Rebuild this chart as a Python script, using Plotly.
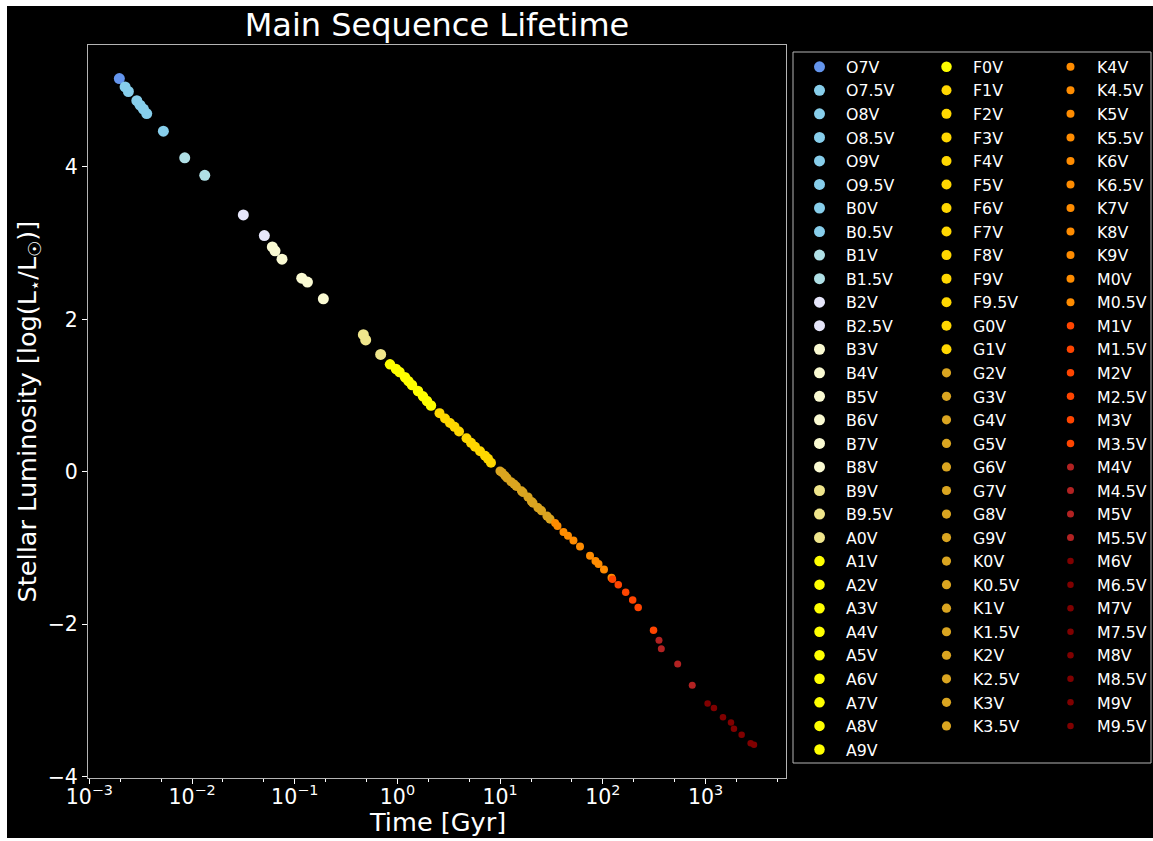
import plotly.graph_objects as go

# Main-sequence dwarf spectral types
spectral_types = [
    "O7V", "O7.5V", "O8V", "O8.5V", "O9V", "O9.5V", "B0V", "B0.5V", "B1V", "B1.5V",
    "B2V", "B2.5V", "B3V", "B4V", "B5V", "B6V", "B7V", "B8V", "B9V", "B9.5V",
    "A0V", "A1V", "A2V", "A3V", "A4V", "A5V", "A6V", "A7V", "A8V", "A9V",
    "F0V", "F1V", "F2V", "F3V", "F4V", "F5V", "F6V", "F7V", "F8V", "F9V",
    "F9.5V", "G0V", "G1V", "G2V", "G3V", "G4V", "G5V", "G6V", "G7V", "G8V",
    "G9V", "K0V", "K0.5V", "K1V", "K1.5V", "K2V", "K2.5V", "K3V", "K3.5V",
    "K4V", "K4.5V", "K5V", "K5.5V", "K6V", "K6.5V", "K7V", "K8V", "K9V", "M0V",
    "M0.5V", "M1V", "M1.5V", "M2V", "M2.5V", "M3V", "M3.5V", "M4V", "M4.5V", "M5V",
    "M5.5V", "M6V", "M6.5V", "M7V", "M7.5V", "M8V", "M8.5V", "M9V", "M9.5V",
]

# Main-sequence lifetime [Gyr]
lifetime_gyr = [
    0.00196, 0.00223, 0.00240, 0.00290, 0.00312, 0.00336, 0.00362, 0.00526, 0.00849, 0.0133,
    0.0316, 0.0506, 0.0605, 0.0643, 0.0752, 0.117, 0.133, 0.190, 0.466, 0.491,
    0.687, 0.847, 0.969, 1.048, 1.186, 1.282, 1.387, 1.587, 1.775, 1.941,
    2.123, 2.57, 2.91, 3.25, 3.60, 3.98, 4.71, 5.21, 5.70, 6.38,
    7.13, 7.63, 8.15, 9.98, 10.43, 11.16, 11.67, 12.77, 13.66, 14.37,
    16.16, 16.71, 18.70, 20.23, 20.91, 23.38, 25.29, 28.62, 30.61,
    34.3, 36.2, 41.4, 45.8, 51.8, 60.0, 75.1, 84.9, 90.8, 102.7,
    121.6, 124.2, 141.5, 167.1, 195.4, 221.2, 311.9, 352.5, 371.5, 536.0,
    743.0, 1049.0, 1209.0, 1480.0, 1771.0, 1893.0, 2249.0, 2754.0, 2966.0,
]

# log10(L / Lsun)
log_luminosity = [
    5.16, 5.05, 4.99, 4.87, 4.81, 4.76, 4.70, 4.47, 4.12, 3.89,
    3.37, 3.10, 2.95, 2.90, 2.79, 2.54, 2.49, 2.27, 1.80, 1.73,
    1.54, 1.41, 1.35, 1.31, 1.24, 1.19, 1.14, 1.06, 0.99, 0.93,
    0.87, 0.77, 0.70, 0.64, 0.59, 0.53, 0.44, 0.38, 0.33, 0.27,
    0.21, 0.17, 0.12, 0.01, -0.01, -0.05, -0.08, -0.13, -0.16, -0.19,
    -0.25, -0.27, -0.33, -0.39, -0.41, -0.47, -0.51, -0.58, -0.62,
    -0.67, -0.71, -0.79, -0.84, -0.90, -0.98, -1.10, -1.17, -1.21, -1.28,
    -1.39, -1.41, -1.48, -1.58, -1.68, -1.78, -2.08, -2.21, -2.32, -2.52,
    -2.80, -3.04, -3.10, -3.22, -3.29, -3.37, -3.45, -3.56, -3.58,
]

# Axis ticks
time_ticks = [1e-3, 1e-2, 1e-1, 1e0, 1e1, 1e2, 1e3]
time_tick_labels = ["10<sup>−3</sup>", "10<sup>−2</sup>", "10<sup>−1</sup>", "10<sup>0</sup>",
                    "10<sup>1</sup>", "10<sup>2</sup>", "10<sup>3</sup>"]
lum_ticks = [-4, -2, 0, 2, 4]

# Marker colour / size per group of spectral types
style_groups = [
    (["O7V"], "#6495ED", 11),
    (["O7.5V", "O8V", "O8.5V", "O9V", "O9.5V", "B0V", "B0.5V"], "#87CEEB", 11),
    (["B1V", "B1.5V"], "#B0E0E6", 11),
    (["B2V", "B2.5V"], "#E6E6FA", 11),
    (["B3V", "B4V", "B5V", "B6V", "B7V", "B8V"], "#FAFAD2", 11),
    (["B9V", "B9.5V", "A0V"], "#F0E68C", 11),
    (["A1V", "A2V", "A3V", "A4V", "A5V", "A6V", "A7V", "A8V", "A9V", "F0V"], "#FFFF00", 10.5),
    (["F1V", "F2V", "F3V", "F4V", "F5V", "F6V", "F7V", "F8V", "F9V", "F9.5V",
      "G0V", "G1V"], "#FFD700", 10),
    (["G2V", "G3V", "G4V", "G5V", "G6V", "G7V", "G8V", "G9V", "K0V", "K0.5V",
      "K1V", "K1.5V", "K2V", "K2.5V", "K3V", "K3.5V"], "#DAA520", 9.2),
    (["K4V", "K4.5V", "K5V", "K5.5V", "K6V", "K6.5V", "K7V", "K8V", "K9V", "M0V",
      "M0.5V"], "#FF8C00", 8),
    (["M1V", "M1.5V", "M2V", "M2.5V", "M3V", "M3.5V"], "#FF4500", 7.5),
    (["M4V", "M4.5V", "M5V", "M5.5V"], "#B22222", 7),
    (["M6V", "M6.5V", "M7V", "M7.5V", "M8V", "M8.5V", "M9V", "M9.5V"], "#800000", 6.5),
]
style_of = {}
for names, color, size in style_groups:
    for n in names:
        style_of[n] = (color, size)

FONT = "DejaVu Sans"
fig = go.Figure()

for i, (sp, t, lum) in enumerate(zip(spectral_types, lifetime_gyr, log_luminosity)):
    color, size = style_of[sp]
    legend_id = "legend" if i < 30 else ("legend2" if i < 59 else "legend3")
    fig.add_trace(go.Scatter(
        x=[t], y=[lum], mode="markers", name=sp,
        marker=dict(color=color, size=size, line=dict(width=0)),
        legend=legend_id,
    ))

# plot area in pixels: left 88, right 786, top 45, bottom 778
W, H = 1153, 841
L, R, T, B = 88, 786, 45, 778
pw, ph = R - L, B - T


def px(x):
    return (x - L) / pw


def py(y):
    return (B - y) / ph


legend_common = dict(
    bgcolor="rgba(0,0,0,0)",
    font=dict(color="white", size=15.8, family=FONT),
    itemsizing="trace",
    itemwidth=43,
    xanchor="left", yanchor="top",
    borderwidth=0,
    y=py(50),
)

axis_common = dict(
    showgrid=False, zeroline=False,
    showline=True, linecolor="#b4b4b4", linewidth=1, mirror=True,
    ticks="outside", ticklen=5, tickcolor="white", tickwidth=1,
    tickfont=dict(color="white", size=20.5, family=FONT),
)

fig.update_layout(
    width=W, height=H,
    margin=dict(l=L, r=W - R, t=T, b=H - B, autoexpand=False),
    paper_bgcolor="white",
    plot_bgcolor="black",
    font=dict(family=FONT, color="white"),
    title=dict(
        text="Main Sequence Lifetime",
        x=0.5, xref="paper", xanchor="center",
        y=1 - 25 / H, yref="container", yanchor="middle",
        font=dict(size=32, color="white", family=FONT),
    ),
    xaxis=dict(
        type="log", range=[-3.013, 3.784],
        tickvals=time_ticks, ticktext=time_tick_labels,
        ticklabelstandoff=-5,
        minor=dict(ticks="outside", ticklen=3, tickcolor="white", showgrid=False),
        **axis_common,
    ),
    yaxis=dict(range=[-4.017, 5.60], tickvals=lum_ticks, **axis_common),
    legend=dict(x=px(793), **legend_common),
    legend2=dict(x=px(920), **legend_common),
    legend3=dict(x=px(1044), **legend_common),
    showlegend=True,
    shapes=[
        dict(type="rect", xref="paper", yref="paper", layer="below",
             x0=px(7), x1=px(1160), y0=py(838), y1=py(6),
             fillcolor="black", line=dict(width=0)),
        dict(type="rect", xref="paper", yref="paper", layer="above",
             x0=px(793), x1=px(1151), y0=py(763), y1=py(52),
             fillcolor="rgba(0,0,0,0)", line=dict(color="#b4b4b4", width=1)),
    ],
    annotations=[
        dict(text="Time [Gyr]", xref="paper", yref="paper",
             x=0.5, y=py(822), xanchor="center", yanchor="middle",
             showarrow=False, font=dict(size=25.6, color="white", family=FONT)),
        dict(text="Stellar Luminosity [log(L<sub>⋆</sub>/L<sub>☉</sub>)]",
             xref="paper", yref="paper", x=px(28), y=0.5,
             xanchor="center", yanchor="middle", textangle=-90,
             showarrow=False, font=dict(size=25.6, color="white", family=FONT)),
    ],
)

fig.write_html("out.html")
